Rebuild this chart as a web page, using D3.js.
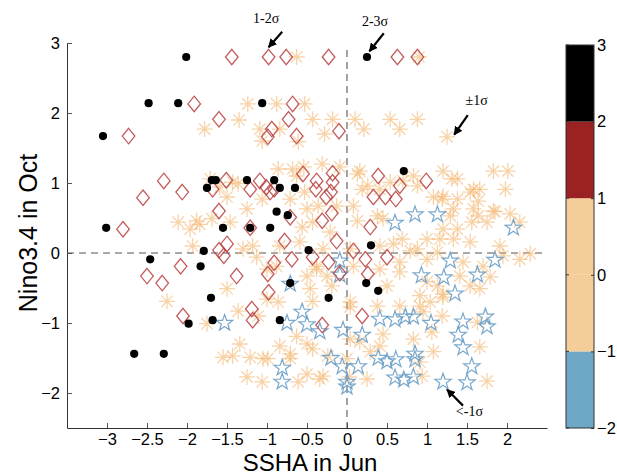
<!DOCTYPE html>
<html><head><meta charset="utf-8">
<script src="https://cdn.jsdelivr.net/npm/d3@7"></script>
<style>body{margin:0;background:#fff}svg{display:block}</style>
</head><body>
<svg id="c" width="617" height="476"></svg>
<script>
// ---- data (SSHA in Jun, Nino3.4 in Oct) ----
const xTicks = [-3,-2.5,-2,-1.5,-1,-0.5,0,0.5,1,1.5,2];
const yTicks = [-2,-1,0,1,2,3];
const colorbarTicks = [-2,-1,0,1,2,3];
const colorbarBins = [[-2,-1,"#6fa7c6"],[-1,0,"#f5cd99"],[0,1,"#f5cd99"],[1,2,"#9a2222"],[2,3,"#000000"]];

// 2-3 sigma (black dots)
const sigma23 = [[-2.01,2.80],[0.25,2.80],[-2.48,2.14],[-2.11,2.14],[-1.06,2.14],[-3.05,1.67],[-1.75,0.93],[-1.69,1.04],[-1.64,1.04],[-1.25,1.04],[-0.91,1.04],[-0.84,0.93],[-0.65,0.93],[-0.88,0.59],[-0.74,0.54],[0.71,1.17],[-3.01,0.36],[-1.55,0.36],[-1.21,0.36],[-0.96,0.36],[-1.79,0.03],[-0.48,0.04],[0.30,0.11],[-2.46,-0.09],[-1.83,-0.19],[-0.71,-0.43],[0.24,-0.43],[0.39,-0.54],[-1.70,-0.64],[-0.23,-0.64],[-1.98,-1.01],[-1.68,-0.96],[-0.84,-0.96],[-2.66,-1.44],[-2.29,-1.44]];

// 1-2 sigma (red diamonds)
const sigma12 = [[-1.44,2.80],[-0.98,2.80],[-0.76,2.80],[-0.23,2.80],[0.63,2.80],[0.88,2.80],[-1.91,2.13],[-0.68,2.13],[-1.60,1.91],[-0.73,1.91],[-0.94,1.77],[-2.73,1.67],[-0.99,1.66],[-0.63,1.67],[-0.10,1.74],[-2.29,1.03],[-2.55,0.79],[-2.06,0.87],[-1.51,1.04],[-1.68,0.91],[-1.09,1.03],[-1.21,0.91],[-1.01,0.94],[-0.96,0.87],[-0.91,0.91],[-0.55,1.13],[-0.38,1.03],[-0.39,0.91],[-0.18,1.14],[-0.18,1.01],[-0.20,0.87],[-0.26,0.80],[0.39,1.10],[0.33,0.80],[0.48,0.80],[0.61,0.77],[0.66,0.96],[0.99,1.03],[-1.60,0.60],[-0.71,0.51],[-0.19,0.57],[-0.31,0.46],[0.29,0.37],[-1.21,0.36],[-2.80,0.34],[-1.60,0.04],[-1.50,0.13],[-1.54,-0.04],[-0.78,0.17],[-0.13,0.17],[0.08,0.03],[-0.69,-0.09],[-0.91,-0.14],[-0.43,-0.06],[-0.23,-0.13],[0.23,-0.09],[0.50,-0.06],[-2.08,-0.19],[-2.50,-0.33],[-2.31,-0.43],[-1.38,-0.33],[-0.99,-0.30],[-0.98,-0.56],[-0.09,-0.29],[0.26,-0.30],[-2.05,-0.90],[-1.19,-0.80],[-1.18,-0.96],[0.19,-0.90],[-0.31,-1.03]];

// within +-1 sigma (orange asterisks)
const sigma1 = [[-0.63,2.80],[0.90,2.80],[-1.24,2.13],[-0.88,2.13],[-0.53,2.13],[-1.35,1.90],[-1.78,1.77],[-1.09,1.77],[-0.84,1.77],[-0.43,1.91],[-0.28,1.70],[-0.18,1.91],[0.10,1.91],[0.21,1.77],[0.54,1.91],[0.66,1.77],[0.88,1.91],[1.25,1.66],[-1.06,1.60],[-0.61,1.59],[-0.86,1.20],[-0.68,1.20],[-0.63,1.10],[-0.54,1.23],[-0.31,1.27],[-0.09,1.23],[-2.11,0.44],[-1.88,0.46],[-1.84,0.41],[-1.96,0.34],[-1.69,0.49],[-1.46,0.44],[-1.71,1.06],[-1.59,0.94],[-1.43,1.01],[-1.36,0.99],[-1.50,0.80],[-1.25,0.63],[-1.06,0.77],[-1.93,0.10],[-1.30,0.06],[-1.18,0.10],[-1.13,-0.06],[-1.00,-0.23],[-0.53,0.87],[-0.71,0.77],[-0.50,0.63],[-0.36,0.67],[-0.13,0.67],[0.08,0.67],[0.16,1.17],[0.26,0.96],[0.54,1.01],[0.70,1.03],[0.13,0.46],[0.45,0.49],[-0.56,0.37],[-0.43,0.44],[-0.21,0.30],[-0.84,0.10],[-0.59,0.16],[-0.30,0.06],[0.04,0.06],[0.41,0.10],[0.69,0.20],[-0.88,-0.19],[-0.38,-0.19],[0.08,-0.19],[0.41,-0.23],[0.66,-0.13],[0.13,1.13],[0.19,0.91],[0.41,0.91],[0.83,1.10],[1.20,1.17],[1.38,1.06],[1.54,0.87],[1.66,0.91],[1.83,1.17],[2.01,1.17],[1.98,0.91],[1.83,0.60],[2.04,0.56],[1.20,0.81],[1.33,0.63],[1.58,0.63],[0.38,0.53],[1.31,1.06],[0.88,0.96],[1.08,0.80],[1.19,0.77],[1.38,0.77],[1.58,0.91],[1.64,0.74],[1.29,0.53],[1.56,0.44],[1.64,0.53],[1.85,0.59],[2.16,0.44],[1.20,0.34],[1.00,0.20],[1.33,0.20],[1.91,0.10],[0.88,0.06],[1.13,0.01],[2.16,-0.09],[2.29,-0.01],[1.45,-0.13],[1.70,-0.19],[1.95,-0.04],[1.41,-0.33],[1.79,-0.34],[1.00,-0.41],[1.13,-0.47],[1.54,-0.47],[0.91,-0.61],[1.20,-0.63],[1.66,-0.51],[0.95,-0.84],[1.19,-0.90],[1.06,-1.13],[1.63,-0.99],[1.66,-1.34],[0.91,-1.56],[0.94,-1.76],[1.75,-1.83],[1.04,-0.70],[1.20,-0.59],[1.08,-1.41],[0.83,-1.23],[0.45,-1.16],[0.16,-1.27],[-0.24,-1.47],[-0.34,-1.80],[0.25,-1.80],[0.66,-0.76],[0.91,-0.76],[0.38,-0.76],[0.04,-0.77],[-0.43,-0.69],[-0.50,-0.33],[-0.19,-0.47],[0.50,-0.47],[0.66,-0.27],[-0.38,-0.23],[0.79,0.03],[0.58,0.13],[1.16,0.20],[1.38,0.34],[1.75,0.44],[1.54,0.16],[1.00,-0.09],[-0.86,-0.70],[-0.46,-0.51],[-0.25,-0.33],[0.04,-0.70],[-0.63,-1.19],[-0.84,-1.33],[-0.43,-1.37],[0.04,-1.23],[-0.71,-1.51],[-0.50,-1.73],[-0.30,-1.76],[0.41,-1.33],[0.29,-1.41],[-1.50,-0.51],[-2.25,-0.69],[-1.75,-1.01],[-1.36,-0.83],[-1.11,-0.90],[-1.00,-0.66],[-1.34,-1.30],[-1.55,-1.49],[-1.43,-1.47],[-1.21,-1.49],[-1.05,-1.51],[-1.25,-1.77],[-1.06,-1.84],[-0.99,-1.51],[-0.71,-1.44],[-0.61,-1.84],[-0.50,-1.30],[0.03,-1.77],[0.00,-1.51]];

// below -1 sigma (blue stars)
const sigmaNeg = [[0.60,0.44],[0.85,0.56],[1.13,0.56],[2.08,0.37],[-0.09,-0.10],[1.29,-0.10],[1.85,-0.09],[-0.09,-0.30],[0.93,-0.31],[1.21,-0.34],[1.63,-0.30],[1.35,-0.57],[-0.71,-0.43],[-0.56,-0.83],[-0.75,-0.99],[-0.50,-1.01],[-0.34,-1.11],[-0.05,-1.09],[0.19,-1.16],[0.41,-0.93],[0.60,-0.94],[0.73,-0.90],[0.83,-0.90],[1.05,-0.99],[1.45,-0.97],[1.73,-0.90],[1.75,-1.04],[1.39,-1.16],[1.45,-1.34],[-0.20,-1.49],[-0.06,-1.61],[0.14,-1.61],[0.39,-1.49],[0.50,-1.54],[0.61,-1.51],[0.85,-1.43],[0.85,-1.51],[1.56,-1.61],[-0.81,-1.63],[-0.81,-1.83],[0.00,-1.83],[0.00,-1.90],[0.60,-1.77],[0.71,-1.80],[0.83,-1.76],[1.20,-1.83],[1.50,-1.84],[-1.53,-0.99]];

// annotation labels: text, text anchor (data), arrow from/to (data)
const annotations = [
  {text:"1-2σ", tx:-1.01, ty:3.28, x1:-0.81, y1:3.16, x2:-0.98, y2:2.94},
  {text:"2-3σ", tx:0.35, ty:3.25, x1:0.46, y1:3.14, x2:0.28, y2:2.88},
  {text:"±1σ", tx:1.62, ty:2.11, x1:1.51, y1:1.97, x2:1.34, y2:1.69},
  {text:"<-1σ", tx:1.53, ty:-2.33, x1:1.45, y1:-2.18, x2:1.25, y2:-1.95}
];

// ---- drawing ----
const svg = d3.select("#c");
const x = d3.scaleLinear().domain([-3.5,2.5]).range([67,547]);
const y = d3.scaleLinear().domain([-2.5,3]).range([428,43]);
const font = "'Liberation Sans', Arial, Helvetica, sans-serif";

// reference dashed lines
svg.append("line").attr("x1",x(-3.5)).attr("x2",x(2.48)).attr("y1",y(0)).attr("y2",y(0))
  .attr("stroke","#8c8c8c").attr("stroke-width",1.6).attr("stroke-dasharray","7,5");
svg.append("line").attr("x1",x(0)).attr("x2",x(0)).attr("y1",y(2.9)).attr("y2",y(-2.5))
  .attr("stroke","#8c8c8c").attr("stroke-width",1.6).attr("stroke-dasharray","7,5");

// asterisks
const astR = 8;
const astPath = d3.range(4).map(i=>{const a=i*Math.PI/4;return `M${-astR*Math.cos(a)},${-astR*Math.sin(a)}L${astR*Math.cos(a)},${astR*Math.sin(a)}`;}).join("");
svg.append("g").selectAll("path").data(sigma1).join("path")
  .attr("transform",d=>`translate(${x(d[0])},${y(d[1])})`)
  .attr("d",astPath).attr("stroke","#f4b66e").attr("stroke-opacity",0.6).attr("stroke-width",1.3).attr("fill","none");

// stars
const starPts = d3.range(10).map(i=>{const r=i%2?3.4:8.6;const a=-Math.PI/2+i*Math.PI/5;return [r*Math.cos(a),r*Math.sin(a)+0.8];});
const starPath = "M"+starPts.map(p=>p.join(",")).join("L")+"Z";
svg.append("g").selectAll("path").data(sigmaNeg).join("path")
  .attr("transform",d=>`translate(${x(d[0])},${y(d[1])})`)
  .attr("d",starPath).attr("stroke","#6a9fc6").attr("stroke-width",1.2).attr("fill","none").attr("stroke-opacity",0.9);

// diamonds
const diaPath = "M0,-7.7L6.3,0L0,7.7L-6.3,0Z";
svg.append("g").selectAll("path").data(sigma12).join("path")
  .attr("transform",d=>`translate(${x(d[0])},${y(d[1])})`)
  .attr("d",diaPath).attr("stroke","#b9403f").attr("stroke-width",1.3).attr("fill","none").attr("stroke-opacity",0.85);

// dots
svg.append("g").selectAll("circle").data(sigma23).join("circle")
  .attr("cx",d=>x(d[0])).attr("cy",d=>y(d[1])).attr("r",4.1).attr("fill","#000");

// axes
const fmt = d=>d3.format("")(d).replace("-","−");
const gx = svg.append("g").attr("transform",`translate(0,${y(-2.5)})`)
  .call(d3.axisBottom(x).tickValues(xTicks).tickSizeInner(-5).tickSizeOuter(0).tickPadding(5).tickFormat(fmt));
const gy = svg.append("g").attr("transform",`translate(${x(-3.5)},0)`)
  .call(d3.axisLeft(y).tickValues(yTicks).tickSizeInner(-5).tickSizeOuter(0).tickPadding(7).tickFormat(fmt));
[gx,gy].forEach(g=>{
  g.selectAll("text").attr("font-family",font).attr("font-size",16.5).attr("fill","#000");
  g.select(".domain").attr("stroke","#333").attr("stroke-width",1);
  g.selectAll(".tick line").attr("stroke","#555");
});

// axis titles
svg.append("text").attr("x",310).attr("y",470.5).attr("text-anchor","middle")
  .attr("font-family",font).attr("font-size",24).text("SSHA in Jun");
svg.append("text").attr("transform","translate(37,233) rotate(-90)").attr("text-anchor","middle")
  .attr("font-family",font).attr("font-size",25).text("Nino3.4 in Oct");

// annotations
const defs = svg.append("defs");
defs.append("marker").attr("id","ah").attr("viewBox","0 0 10 10").attr("refX",9).attr("refY",5)
  .attr("markerWidth",4).attr("markerHeight",4).attr("orient","auto")
  .append("path").attr("d","M0,0L10,5L0,10Z").attr("fill","#000");
const ann = svg.append("g");
annotations.forEach(a=>{
  ann.append("line").attr("x1",x(a.x1)).attr("y1",y(a.y1)).attr("x2",x(a.x2)).attr("y2",y(a.y2))
    .attr("stroke","#000").attr("stroke-width",2.2).attr("marker-end","url(#ah)");
  ann.append("text").attr("x",x(a.tx)).attr("y",y(a.ty)).attr("text-anchor","middle")
    .attr("font-family","'Liberation Serif','Times New Roman',serif").attr("font-size",14).text(a.text);
});

// colorbar
const cb = d3.scaleLinear().domain([-2,3]).range([428,45]);
const cbx0 = 566, cbw = 28;
svg.append("g").selectAll("rect").data(colorbarBins).join("rect")
  .attr("x",cbx0).attr("width",cbw).attr("y",d=>cb(d[1])).attr("height",d=>cb(d[0])-cb(d[1])).attr("fill",d=>d[2]);
svg.append("rect").attr("x",cbx0).attr("y",cb(3)).attr("width",cbw).attr("height",cb(-2)-cb(3))
  .attr("fill","none").attr("stroke","#333").attr("stroke-width",1);
const cbAxis = svg.append("g").attr("transform",`translate(${cbx0+cbw},0)`)
  .call(d3.axisRight(cb).tickValues(colorbarTicks).tickSizeInner(-3).tickSizeOuter(0).tickPadding(3).tickFormat(fmt));
cbAxis.select(".domain").remove();
cbAxis.selectAll("text").attr("font-family",font).attr("font-size",16.5).attr("fill","#000");
cbAxis.selectAll(".tick line").attr("stroke","#333");
svg.append("g").selectAll("line").data(colorbarTicks).join("line")
  .attr("x1",cbx0).attr("x2",cbx0+3).attr("y1",d=>cb(d)).attr("y2",d=>cb(d)).attr("stroke","#333");
</script>
</body></html>
